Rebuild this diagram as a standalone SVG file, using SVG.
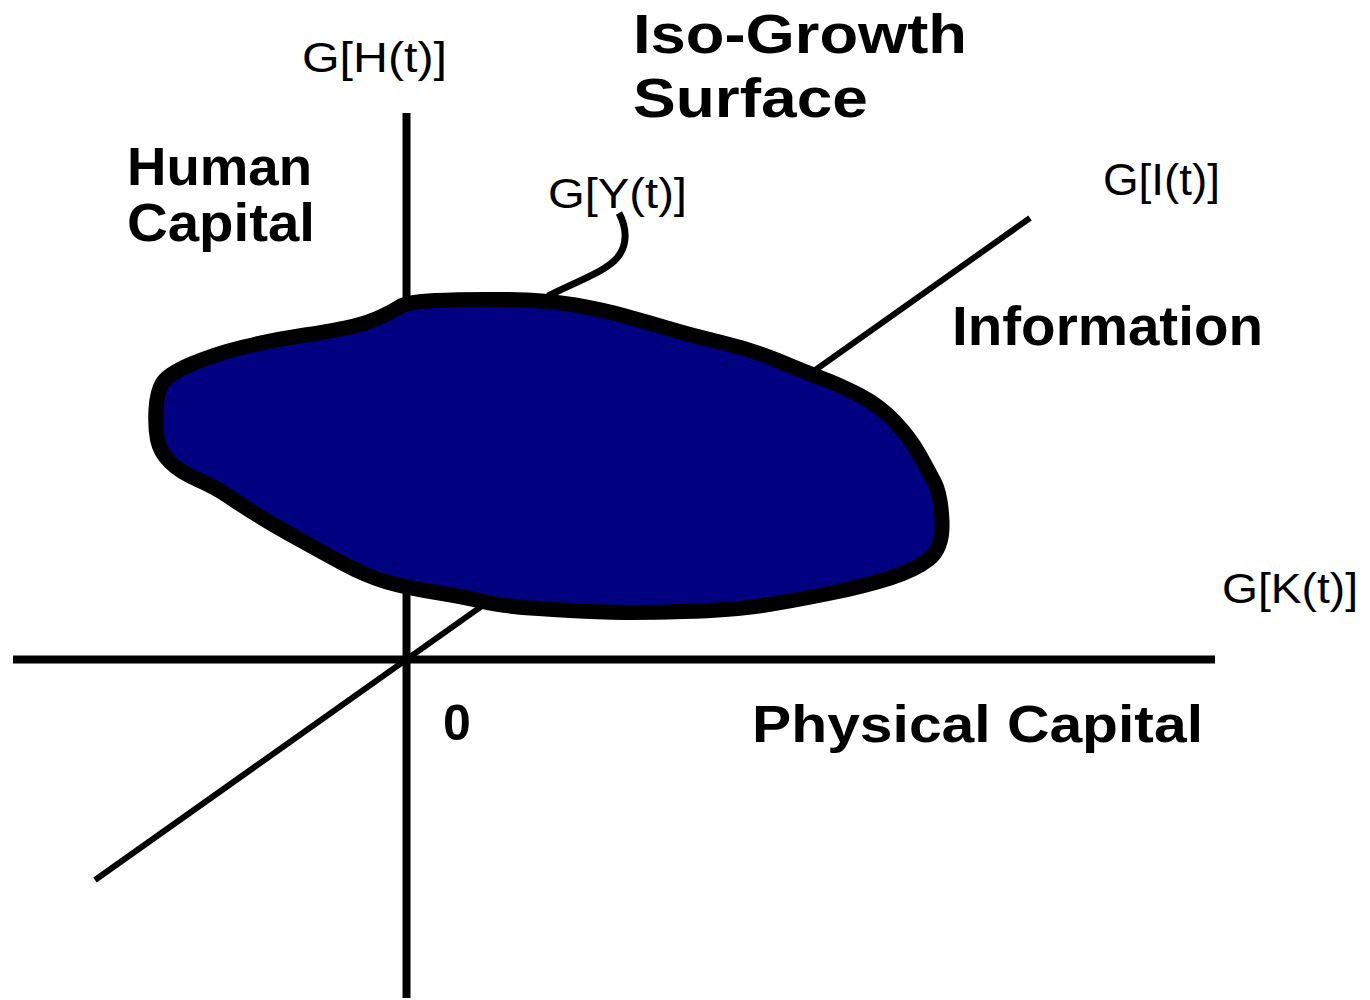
<svg xmlns="http://www.w3.org/2000/svg" width="1370" height="1000" viewBox="0 0 1370 1000">
<style>
.ax{stroke:#000;fill:none;stroke-linecap:butt}
.lb{font-family:"Liberation Sans",Arial,sans-serif;fill:#000}
.b{font-weight:bold}
</style>
<rect width="1370" height="1000" fill="#fff"/>
<g id="connectors">
<line id="axis-h" class="ax" x1="13" y1="659.5" x2="1215" y2="659.5" stroke-width="8"/>
<line id="axis-v" class="ax" x1="406.5" y1="113" x2="406.5" y2="998" stroke-width="8"/>
<line id="axis-diag" class="ax" x1="95" y1="880" x2="1030" y2="218" stroke-width="6"/>
</g>
<g id="surface">
<path d="M 400,306.5 Q 407,302 435,300.5 Q 463,299 505,299.5 Q 547,300 575,305 Q 603,310 625,316 Q 647,322 668.5,328.5 Q 690,335 721.5,342.5 Q 753,350 779,361 Q 805,372 822.5,378.5 Q 840,385 860,395.5 Q 880,406 895,422 Q 910,438 919,454 Q 928,470 934.5,482.5 Q 941,495 942,521.5 Q 943,548 929,559 Q 915,570 890,578 Q 865,586 828.5,593.5 Q 792,601 762.5,605.5 Q 733,610 683,611.5 Q 633,613 605,612 Q 577,611 538.5,608.5 Q 500,606 482.5,601.5 Q 465,597 436.5,592.5 Q 408,588 387,582 Q 366,576 343,563.5 Q 320,551 298.5,539 Q 277,527 260.5,517 Q 244,507 229.5,497 Q 215,487 197.5,479.5 Q 180,472 170,462 Q 160,452 157.5,439.5 Q 155,427 156,409.5 Q 157,392 162.5,383 Q 168,374 191.5,364 Q 215,354 243.5,347 Q 272,340 305,335 Q 338,330 354,326 Q 370,322 381.5,316.5 Q 393,311 400,306.5 Z" fill="#000080" stroke="#000" stroke-width="15" stroke-linejoin="round"/>
<path id="leader-y" d="M 548,296 C 575,282 605,272 617,258 C 628,245 627,228 619,213" fill="none" stroke="#000" stroke-width="7"/>
</g>
<g id="label-gh"><text class="lb" x="302" y="72" font-size="42" textLength="145" lengthAdjust="spacingAndGlyphs">G[H(t)]</text></g>
<g id="label-title"><text class="lb b" x="633" y="53" font-size="56" textLength="334" lengthAdjust="spacingAndGlyphs">Iso-Growth</text><text class="lb b" x="633" y="117" font-size="56" textLength="235" lengthAdjust="spacingAndGlyphs">Surface</text></g>
<g id="label-human"><text class="lb b" x="127" y="185" font-size="54" textLength="185" lengthAdjust="spacingAndGlyphs">Human</text><text class="lb b" x="127" y="241" font-size="54" textLength="188" lengthAdjust="spacingAndGlyphs">Capital</text></g>
<g id="label-gy"><text class="lb" x="548" y="208" font-size="42" textLength="139" lengthAdjust="spacingAndGlyphs">G[Y(t)]</text></g>
<g id="label-gi"><text class="lb" x="1103" y="195" font-size="44" textLength="117" lengthAdjust="spacingAndGlyphs">G[I(t)]</text></g>
<g id="label-info"><text class="lb b" x="952" y="345" font-size="56" textLength="311" lengthAdjust="spacingAndGlyphs">Information</text></g>
<g id="label-gk"><text class="lb" x="1222" y="603" font-size="43" textLength="136" lengthAdjust="spacingAndGlyphs">G[K(t)]</text></g>
<g id="label-zero"><text class="lb b" x="443" y="740" font-size="50">0</text></g>
<g id="label-physical"><text class="lb b" x="752" y="742" font-size="52" textLength="451" lengthAdjust="spacingAndGlyphs">Physical Capital</text></g>
</svg>
